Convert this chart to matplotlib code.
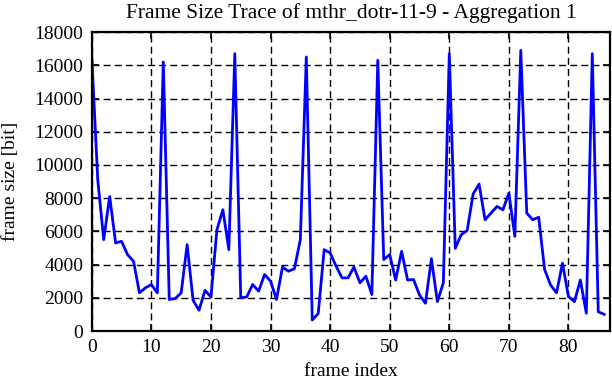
import matplotlib
matplotlib.use("Agg")
import matplotlib.pyplot as plt
import numpy as np

# frame sizes, one per frame index
frame_index = np.arange(87)
frame_size = [
    16500, 9100, 5500, 8100, 5300, 5400, 4600, 4200, 2300, 2600,
    2800, 2300, 16200, 1900, 1950, 2300, 5200, 1850, 1250, 2450,
    2050, 6100, 7300, 4900, 16700, 2000, 2050, 2800, 2400, 3400,
    3000, 1900, 3850, 3600, 3750, 5500, 16500, 660, 1050, 4900,
    4700, 3900, 3200, 3200, 3850, 2900, 3300, 2200, 16300, 4300,
    4600, 3070, 4800, 3070, 3100, 2170, 1670, 4350, 1770, 2900,
    16700, 4980, 5800, 6050, 8250, 8850, 6700, 7100, 7500, 7300,
    8300, 5700, 16900, 7100, 6700, 6850, 3700, 2770, 2300, 4080,
    2070, 1770, 3070, 1070, 16700, 1160, 1000,
]

plt.rcParams['font.family'] = ['Liberation Serif', 'DejaVu Serif']
plt.rcParams['font.size'] = 14

fig = plt.figure(figsize=(6.12, 3.82), dpi=100)
ax = fig.add_axes([0.150, 0.1335, 0.847, 0.7825])

ax.plot(frame_index, frame_size, color='#0000ff', linewidth=2.0)

ax.set_xlim(0, 87)
ax.set_ylim(0, 18000)
ax.set_xticks(np.arange(0, 90, 10))
ax.set_yticks(np.arange(0, 18001, 2000))
ax.grid(True, color='black', linestyle=(0, (5, 3)), linewidth=1.0)
ax.tick_params(direction='in', length=5, width=1.2, top=True, right=True,
               labelsize=14, pad=6)
for s in ax.spines.values():
    s.set_linewidth(1.6)

ax.set_title('Frame Size Trace of mthr_dotr-11-9 - Aggregation 1', fontsize=15.5, pad=10)
ax.set_xlabel('frame index', labelpad=5)
ax.set_ylabel('frame size [bit]')
ax.yaxis.set_label_coords(-0.140, 0.5)

fig.savefig('out.png', dpi=100)
